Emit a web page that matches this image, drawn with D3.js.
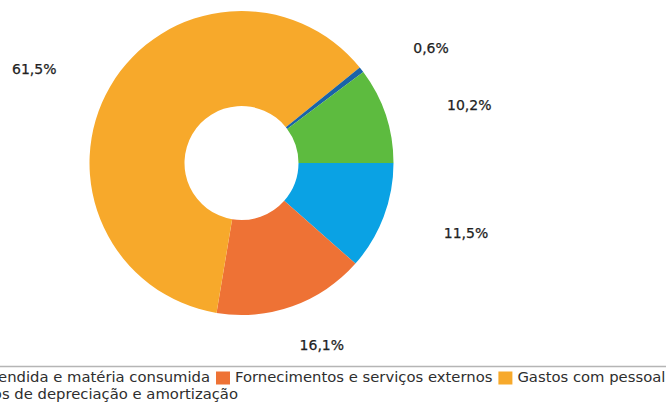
<!DOCTYPE html>
<html>
<head>
<meta charset="utf-8">
<script src="https://cdn.jsdelivr.net/npm/d3@7"></script>
<style>
  html, body { margin: 0; padding: 0; background: #fff; }
  svg { display: block; }
</style>
</head>
<body>
<svg id="chart" width="666" height="405"></svg>
<script>
// Cost structure (share of total expenses, %)
const categories = [
  "Custo das mercadorias vendida e matéria consumida",
  "Fornecimentos e serviços externos",
  "Gastos com pessoal",
  "Gastos de depreciação e amortização",
  "Outros gastos"
];
const values = [11.5, 16.1, 61.5, 0.6, 10.2];
const colors = ["#0aa2e4", "#ee7235", "#f7a92b", "#1a63a8", "#5dbb3f"];
const valueLabels = ["11,5%", "16,1%", "61,5%", "0,6%", "10,2%"];
// legend rows drawn inside the frame (indices into categories)
const legendRows = [[0, 1, 2], [3]];

const svg = d3.select("#chart");
const W = 666, H = 405;
const cx = 241.5, cy = 163;
const outerR = 152, innerR = 57;
const font = "'DejaVu Sans', Verdana, sans-serif";

const data = categories.map((c, i) => ({ name: c, value: values[i], color: colors[i], label: valueLabels[i] }));

const pie = d3.pie()
  .sort(null)
  .value(d => d.value)
  .startAngle(Math.PI / 2)
  .endAngle(Math.PI / 2 + 2 * Math.PI);

const arc = d3.arc().innerRadius(innerR).outerRadius(outerR);
const arcs = pie(data);

const g = svg.append("g").attr("transform", `translate(${cx},${cy})`);
g.selectAll("path.slice")
  .data(arcs)
  .join("path")
  .attr("class", "slice")
  .attr("d", arc)
  .attr("fill", d => d.data.color);

// percentage labels around the ring (elliptical placement)
const labelRx = 240, labelRy = 191;
g.selectAll("text.pct")
  .data(arcs)
  .join("text")
  .attr("class", "pct")
  .attr("x", d => labelRx * Math.sin((d.startAngle + d.endAngle) / 2))
  .attr("y", d => -labelRy * Math.cos((d.startAngle + d.endAngle) / 2) + 2)
  .attr("text-anchor", "middle")
  .attr("dominant-baseline", "central")
  .attr("font-family", font)
  .attr("font-size", "14px")
  .attr("fill", "#222")
  .attr("stroke", "#222")
  .attr("stroke-width", 0.25)
  .text(d => d.data.label);

// separator above the legend
svg.append("line")
  .attr("x1", 0).attr("x2", W)
  .attr("y1", 366.5).attr("y2", 366.5)
  .attr("stroke", "#b5b5b5")
  .attr("stroke-width", 1.5);

// legend
const fontSize = 14.8, sq = 14, gapAfterSq = 5, gapAfterText = 6;
const rowBaselines = [382, 399];
const legend = svg.append("g");

// measure text widths
const measure = svg.append("text")
  .attr("font-family", font).attr("font-size", fontSize + "px")
  .attr("visibility", "hidden");
function textWidth(s) { measure.text(s); return measure.node().getComputedTextLength(); }

legendRows.forEach((row, r) => {
  const widths = row.map(i => sq + gapAfterSq + textWidth(categories[i]));
  let x;
  if (r === 0) {
    // second item's swatch sits at x=216
    x = 216 - (widths[0] + gapAfterText);
  } else {
    // wrapped row ends under the first row's middle
    x = 238 - widths[0];
  }
  row.forEach((i, k) => {
    const base = rowBaselines[r];
    legend.append("rect")
      .attr("x", x).attr("y", base - 10.5)
      .attr("width", sq).attr("height", sq - 1)
      .attr("fill", colors[i]);
    legend.append("text")
      .attr("x", x + sq + gapAfterSq)
      .attr("y", base)
      .attr("font-family", font)
      .attr("font-size", fontSize + "px")
      .attr("fill", "#2e2e2e")
      .text(categories[i]);
    x += widths[k] + gapAfterText;
  });
});
measure.remove();
</script>
</body>
</html>
